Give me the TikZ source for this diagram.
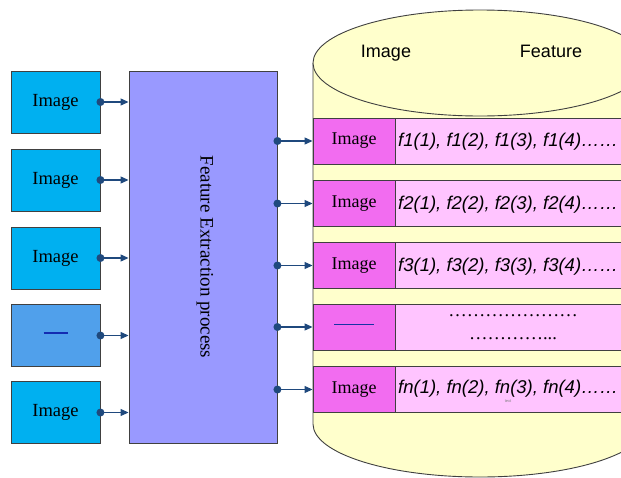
\documentclass[tikz,border=0pt]{standalone}
\usepackage{fontspec}
\setmainfont{Liberation Serif}
\newfontfamily\arial{Liberation Sans}
\usetikzlibrary{arrows.meta}
\definecolor{imgblue}{RGB}{0,176,240}
\definecolor{dashblue}{RGB}{80,160,235}
\definecolor{procviolet}{RGB}{153,153,255}
\definecolor{cellmag}{RGB}{242,108,240}
\definecolor{cellpink}{RGB}{255,196,255}
\definecolor{cylyellow}{RGB}{255,255,204}
\definecolor{arrowblue}{RGB}{31,73,125}
\definecolor{edgegray}{RGB}{64,64,64}
\tikzset{
  imgbox/.style={draw=edgegray, line width=0.9pt, fill=imgblue, minimum width=89pt, minimum height=62pt, inner sep=0pt, font=\fontsize{18.5}{22}\selectfont},
  procbox/.style={draw=edgegray, line width=0.9pt, fill=procviolet, minimum width=148pt, minimum height=372pt, inner sep=0pt},
  keycell/.style={draw=edgegray, line width=0.9pt, fill=cellmag, minimum width=82pt, minimum height=46pt, inner sep=0pt, font=\fontsize{18}{22}\selectfont},
  featcell/.style={draw=edgegray, line width=0.9pt, fill=cellpink, minimum width=250pt, minimum height=46pt, inner sep=0pt},
  feattext/.style={anchor=west, inner sep=0pt, font=\arial\itshape\fontsize{18.5}{22}\selectfont},
  link/.style={draw=arrowblue, line width=1.1pt, -{Triangle[length=8pt,width=7pt]}},
  dotmark/.style={circle, fill=arrowblue, inner sep=0pt, minimum size=8pt},
}
\begin{document}
\begin{tikzpicture}[x=1pt,y=-1pt]
\useasboundingbox (0,0) rectangle (621,477);
\begin{scope}
\clip (0,0) rectangle (621,477);
% cylinder body
\path[fill=cylyellow, draw=edgegray, line width=0.9pt]
  (313,63) -- (313,424) arc[start angle=180, end angle=0, x radius=167pt, y radius=-53pt] -- (647,63);
\path[fill=cylyellow, draw=edgegray, line width=0.9pt] (480,63) ellipse[x radius=167pt, y radius=53pt];
\node[anchor=base, font=\arial\fontsize{18}{22}\selectfont] (thimg) at (386,57) {Image};
\node[anchor=base, font=\arial\fontsize{18}{22}\selectfont] (thfeat) at (551,57) {Feature};
% rows
\node[featcell, anchor=west] (r1) at (395,141) {};
\node[featcell, anchor=west] (r2) at (395,203.5) {};
\node[featcell, anchor=west] (r3) at (395,265.5) {};
\node[featcell, anchor=west] (r4) at (395,327) {};
\node[featcell, anchor=west] (r5) at (395,389.5) {};
\node[keycell] (k1) at (354,141) {Image};
\node[keycell] (k2) at (354,203.5) {Image};
\node[keycell] (k3) at (354,265.5) {Image};
\node[keycell] (k4) at (354,327) {\textcolor{arrowblue!70!blue}{\rule[6pt]{40pt}{1pt}}};
\node[keycell] (k5) at (354,389.5) {Image};
\node[feattext] (t1) at (398,142) {f1(1), f1(2), f1(3), f1(4)……};
\node[feattext] (t2) at (398,204.5) {f2(1), f2(2), f2(3), f2(4)……};
\node[feattext] (t3) at (398,266.5) {f3(1), f3(2), f3(3), f3(4)……};
\node[inner sep=0pt, font=\fontsize{18.5}{20}\selectfont] (t4a) at (513,316) {…………………};
\node[inner sep=0pt, font=\fontsize{18.5}{20}\selectfont] (t4b) at (513,339) {…………...};
\node[feattext] (t5) at (398,388.5) {fn(1), fn(2), fn(3), fn(4)……};
\node[inner sep=0pt, font=\arial\fontsize{4}{5}\selectfont, text=gray] (tiny) at (508,401) {text};
\end{scope}
% left images
\node[imgbox] (i1) at (55.5,102) {Image};
\node[imgbox] (i2) at (55.5,180) {Image};
\node[imgbox] (i3) at (55.5,258) {Image};
\node[imgbox, fill=dashblue] (i4) at (55.5,335.5) {\textcolor{arrowblue!60!blue}{\rule[5pt]{24pt}{1.3pt}}};
\node[imgbox] (i5) at (55.5,412.5) {Image};
% process
\node[procbox] (fe) at (203,257) {};
\node[rotate=-90, inner sep=0pt, font=\fontsize{19}{22}\selectfont] (felabel) at (205,257) {Feature Extraction process};
% arrows in
\foreach \k in {1,...,5}{
  \draw[link] (i\k.east) -- (i\k.east -| fe.west);
  \node[dotmark] at (i\k.east) {};
}
% arrows out
\foreach \k in {1,...,5}{
  \draw[link] (fe.east |- k\k.west) -- (k\k.west);
  \node[dotmark] at (fe.east |- k\k.west) {};
}
\end{tikzpicture}
\end{document}
